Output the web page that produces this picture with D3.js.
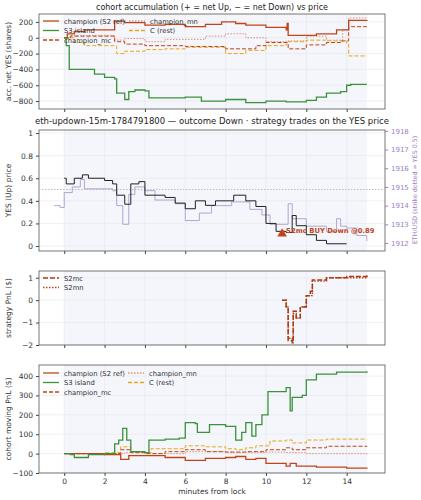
<!DOCTYPE html>
<html><head><meta charset="utf-8">
<script src="https://cdn.jsdelivr.net/npm/d3@7"></script>
<style>
body{margin:0;background:#fff;font-family:"DejaVu Sans",sans-serif}
text{font-family:"DejaVu Sans",sans-serif}
</style></head>
<body><svg id="c" width="421" height="500"></svg>
<script>
// panel 1: accumulated net YES shares, [minute, shares]
var accChampion = [[0,0],[0.15,50],[0.5,80],[1,100],[2.5,210],[3,190],[4,160],[5,170],[6,140],[7,170],[7.8,200],[8.5,180],[9,160],[10,130],[11,100],[11.05,180],[11.1,30],[12,30],[12.5,50],[13.5,100],[14.1,220],[15,225]]
var accS3 = [[0,0],[0.1,-100],[0.25,-400],[1,-400],[1.5,-460],[2,-500],[2.5,-520],[2.6,-700],[3,-780],[3.2,-680],[3.5,-660],[4,-670],[4.2,-760],[6,-750],[6.8,-800],[8,-780],[9,-820],[10,-800],[11,-810],[12,-790],[12.5,-750],[13,-700],[13.7,-680],[14,-600],[14.2,-590],[15,-590]]
var accMc = [[0,0],[0.3,20],[2.5,-50],[3,-80],[4,-100],[6,-110],[8,-140],[9.5,-100],[10,-60],[11,-60],[11.1,-140],[11.5,-140],[12,-90],[13,-60],[13.7,-40],[14.1,140],[15,140]]
var accMn = [[0,0],[0.3,30],[2.5,-30],[3,-10],[4,-50],[5,-20],[7,20],[8,50],[9,0],[10,-50],[11,-40],[12,20],[13,-30],[13.8,100],[14.1,250],[15,250]]
var accC = [[0,0],[0.5,-60],[1,-100],[2.5,-100],[2.6,-200],[3,-170],[4,-150],[5,-140],[6,-120],[8,-200],[9,-160],[10,-100],[11,-50],[12,-30],[13,-40],[14,-80],[14.1,-230],[15,-230]]

// panel 2: YES price and ETH/USD
var yesPrice = [[0,0.6],[0.1,0.55],[0.5,0.6],[0.9,0.63],[1.2,0.6],[2,0.58],[2.4,0.55],[2.6,0.45],[3,0.37],[3.3,0.55],[3.7,0.57],[4,0.45],[5,0.43],[5.5,0.38],[6,0.33],[6.5,0.4],[7,0.36],[7.5,0.4],[8.4,0.45],[9,0.4],[9.5,0.35],[10,0.2],[10.5,0.13],[11,0.12],[11.3,0.27],[11.5,0.18],[12,0.1],[12.5,0.05],[13,0.02],[14,0.02]]
var ethUsd = [[-0.5,1914],[-0.2,1913.9],[0,1914.7],[0.4,1915],[0.8,1915.4],[1,1914.9],[2.4,1914.8],[2.6,1914],[2.9,1913],[3.2,1914.6],[3.5,1915],[4,1914.8],[4.5,1914.3],[5.5,1914.1],[6,1913.2],[6.7,1913.6],[7.3,1914],[8.3,1914.2],[9.2,1913.8],[9.8,1913.5],[10.2,1913],[11,1913],[11.1,1914.1],[11.3,1913.3],[12,1912.9],[13,1912.6],[13.5,1913.3],[13.7,1912.9],[14,1912.8],[14.5,1912.4],[15,1912.1]]
var strike = 0.5
var trade = {t:10.8, price:0.1, label:"S2mc BUY Down @0.89"}

// panel 3: strategy PnL
var pnlS2mc = [[10.8,0],[11.0,-0.3],[11.1,-1.8],[11.3,-1.9],[11.35,-0.5],[11.5,-0.8],[11.7,-0.3],[12,0.2],[12.2,0.4],[12.3,0.9],[12.7,0.9],[13,1.0],[13.5,1.0],[14,1.05],[15,1.1]]
var pnlS2mn = [[10.8,0],[11.0,-0.3],[11.1,-1.7],[11.3,-1.8],[11.35,-0.6],[11.5,-0.8],[11.7,-0.3],[12,0.2],[12.3,0.85],[13,1.0],[15,1.1]]

// panel 4: cohort moving PnL
var mpChampion = [[0,0],[2,-5],[2.8,-30],[3.2,-10],[4,-10],[5,-20],[6,-35],[7,-25],[8,-20],[8.5,-15],[9,-30],[9.5,-25],[10,-50],[11,-65],[11.2,-50],[11.5,-65],[12.5,-70],[14,-75],[15,-78]]
var mpS3 = [[0,0],[0.3,-5],[0.5,-20],[1,-20],[1.2,-5],[2,0],[2.5,50],[2.7,70],[2.9,130],[3.1,70],[3.3,10],[4,5],[4.2,70],[5,75],[5.7,80],[6,160],[6.5,155],[6.6,110],[7.2,150],[8,140],[8.5,70],[8.8,110],[9,160],[9.3,90],[9.5,150],[9.8,200],[10.1,320],[11,340],[11.2,220],[11.3,290],[11.8,300],[12,380],[12.5,410],[13.5,420],[15,425]]
var mpMc = [[0,0],[2.2,0],[2.8,20],[3.3,5],[4,0],[5,10],[6,20],[7,10],[8,8],[9,10],[10,20],[11,30],[11.3,20],[12,30],[13,38],[15,35]]
var mpMn = [[0,0],[3,5],[4,0],[6,10],[8,5],[10,8],[11,5],[12,0],[15,-5]]
var mpC = [[0,0],[2,5],[2.8,35],[3.3,10],[4,5],[4.3,25],[5.5,25],[6,40],[7,35],[8,25],[8.5,20],[9,30],[9.5,40],[10.2,65],[11,70],[11.3,55],[12,70],[13,75],[15,75]]

var xTicks = [0,2,4,6,8,10,12,14]
var cRed = "#c0441a", cGreen = "#3a923a", cMn = "#d9907a", cC = "#e6a817"

var svg = d3.select("#c")
var x = d3.scaleLinear().domain([-1.25,15.9]).range([39,385])

function panel(top, bottom, ydom, yticks, ylabel, showX){
  var y = d3.scaleLinear().domain(ydom).range([bottom, top])
  var g = svg.append("g")
  g.append("rect").attr("x",x(0)).attr("y",top).attr("width",x(15)-x(0)).attr("height",bottom-top).attr("fill","#f4f6fb")
  xTicks.forEach(function(t){ g.append("line").attr("x1",x(t)).attr("x2",x(t)).attr("y1",top).attr("y2",bottom).attr("stroke","#e4e6ec").attr("stroke-width",0.6) })
  yticks.forEach(function(t){ g.append("line").attr("x1",x.range()[0]).attr("x2",x.range()[1]).attr("y1",y(t)).attr("y2",y(t)).attr("stroke","#e4e6ec").attr("stroke-width",0.6) })
  var ax = g.append("g").attr("transform","translate(39,0)").call(d3.axisLeft(y).tickValues(yticks).tickSize(3).tickFormat(function(d){return String(d).replace("-","\u2212")}))
  var bx = g.append("g").attr("transform","translate(0,"+bottom+")").call(d3.axisBottom(x).tickValues(xTicks).tickSize(3).tickFormat(showX?d3.format("d"):""))
  ;[ax,bx].forEach(function(a){ a.select(".domain").remove(); a.selectAll("text").attr("font-size",7.5).attr("fill","#333"); a.selectAll("line").attr("stroke","#444") })
  g.append("rect").attr("x",39).attr("y",top).attr("width",346).attr("height",bottom-top).attr("fill","none").attr("stroke","#555").attr("stroke-width",0.8)
  g.append("text").attr("transform","translate(11,"+((top+bottom)/2)+") rotate(-90)").attr("text-anchor","middle").attr("font-size",7.5).attr("fill","#333").text(ylabel)
  return y
}

function series(y, data, color, dash, width, op){
  var line = d3.line().x(function(d){return x(d[0])}).y(function(d){return y(d[1])}).curve(d3.curveStepAfter)
  svg.append("path").datum(data).attr("d",line).attr("fill","none").attr("stroke",color)
    .attr("stroke-width",width||1.2).attr("stroke-dasharray",dash||null).attr("opacity",op||1)
}

function legend(items, x0, y0, colW){
  items.forEach(function(it,i){
    var col = i < 3 ? 0 : 1, row = i < 3 ? i : i-3
    var lx = x0 + col*colW, ly = y0 + row*9.5
    svg.append("line").attr("x1",lx).attr("x2",lx+16).attr("y1",ly).attr("y2",ly).attr("stroke",it.c).attr("stroke-width",1.3).attr("stroke-dasharray",it.d||null)
    svg.append("text").attr("x",lx+21).attr("y",ly+2.5).attr("font-size",6.8).attr("fill","#333").text(it.n)
  })
}

// panel 1
svg.append("text").attr("x",212).attr("y",10).attr("text-anchor","middle").attr("font-size",8).attr("fill","#222").text("cohort accumulation (+ = net Up, \u2212 = net Down) vs price")
var y1 = panel(14,109,[-900,300],[-800,-600,-400,-200,0,200],"acc. net YES (shares)",false)
series(y1,accMn,cMn,"1.5,1.5",1)
series(y1,accC,cC,"4,2",1)
series(y1,accMc,cRed,"4,2",1)
series(y1,accChampion,cRed,null,1.3)
series(y1,accS3,cGreen,null,1.3)
var cohortLegend = [{n:"champion (S2 ref)",c:cRed},{n:"S3 island",c:cGreen},{n:"champion_mc",c:cRed,d:"4,2"},{n:"champion_mn",c:cMn,d:"1.5,1.5"},{n:"C (rest)",c:cC,d:"4,2"}]
legend(cohortLegend,43,21,86)

// panel 2
svg.append("text").attr("x",212).attr("y",124).attr("text-anchor","middle").attr("font-size",8.5).attr("fill","#222").text("eth-updown-15m-1784791800 \u2014 outcome Down \u00b7 strategy trades on the YES price")
var y2 = panel(130,251,[-0.044,1.027],[0,0.2,0.4,0.6,0.8,1.0],"YES (Up) price",false)
var y2r = d3.scaleLinear().domain([1911.57,1918.05]).range([251,130])
var ra = svg.append("g").attr("transform","translate(385,0)").call(d3.axisRight(y2r).tickValues([1912,1913,1914,1915,1916,1917,1918]).tickSize(3).tickFormat(d3.format("d")))
ra.select(".domain").remove(); ra.selectAll("text").attr("font-size",7).attr("fill","#9a7fc0"); ra.selectAll("line").attr("stroke","#9a7fc0")
svg.append("text").attr("transform","translate(417,190) rotate(-90)").attr("text-anchor","middle").attr("font-size",6.3).attr("fill","#9a7fc0").text("ETH/USD (strike dotted = YES 0.5)")
svg.append("line").attr("x1",39).attr("x2",385).attr("y1",y2(strike)).attr("y2",y2(strike)).attr("stroke","#bbb").attr("stroke-dasharray","1.5,1.5")
series(y2r,ethUsd,"#a896cc",null,1,0.85)
series(y2,yesPrice,"#222",null,1)
svg.append("path").attr("d",d3.symbol().type(d3.symbolTriangle).size(40)()).attr("transform","translate("+x(trade.t)+","+(y2(trade.price)-1)+")").attr("fill",cRed)
svg.append("text").attr("x",x(trade.t)+4).attr("y",y2(trade.price)-2).attr("font-size",6.8).attr("font-weight","bold").attr("fill",cRed).text(trade.label)

// panel 3
var y3 = panel(271,345,[-2,1.3],[-2,-1,0,1],"strategy PnL ($)",false)
series(y3,pnlS2mn,cRed,"1.5,1.5",1.3)
series(y3,pnlS2mc,"#a93a12","5,2",1.5)
legend([{n:"S2mc",c:"#a93a12",d:"5,2"},{n:"S2mn",c:cRed,d:"1.5,1.5"}],43,278,0)

// panel 4
var y4 = panel(365,473,[-100,457],[-100,0,100,200,300,400],"cohort moving PnL ($)",true)
series(y4,mpMn,cMn,"1.5,1.5",1)
series(y4,mpC,cC,"4,2",1)
series(y4,mpMc,cRed,"4,2",1)
series(y4,mpChampion,cRed,null,1.3)
series(y4,mpS3,cGreen,null,1.3)
legend(cohortLegend,43,373,85)
svg.append("text").attr("x",212).attr("y",494).attr("text-anchor","middle").attr("font-size",7.5).attr("fill","#333").text("minutes from lock")
</script></body></html>
